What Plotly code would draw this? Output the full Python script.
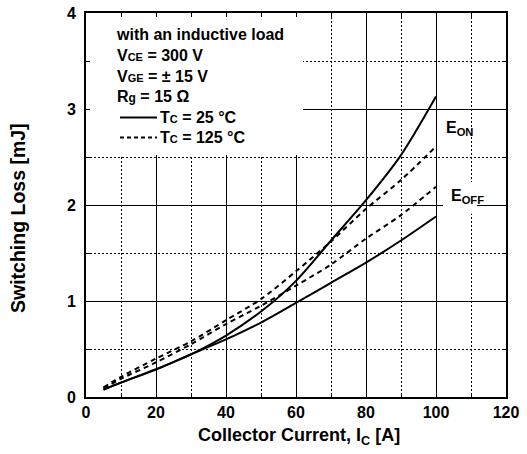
import plotly.graph_objects as go

# ---- data ----
current = [5, 10, 20, 30, 40, 50, 60, 70, 80, 90, 100]
eon_25 = [0.08, 0.15, 0.29, 0.445, 0.64, 0.89, 1.21, 1.63, 2.05, 2.52, 3.13]
eoff_25 = [0.075, 0.15, 0.285, 0.445, 0.60, 0.775, 0.98, 1.19, 1.40, 1.63, 1.88]
eon_125 = [0.10, 0.21, 0.40, 0.58, 0.80, 1.02, 1.31, 1.62, 1.96, 2.26, 2.61]
eoff_125 = [0.09, 0.19, 0.36, 0.55, 0.76, 0.95, 1.16, 1.38, 1.65, 1.895, 2.19]

x_ticks = [0, 20, 40, 60, 80, 100, 120]
y_ticks = [0, 1, 2, 3, 4]

FONT = "Liberation Sans, Arial, sans-serif"

fig = go.Figure()

series = [
    (eon_25, "solid", "E_ON 25"),
    (eoff_25, "solid", "E_OFF 25"),
    (eon_125, "5px,4px", "E_ON 125"),
    (eoff_125, "5px,4px", "E_OFF 125"),
]
for ys, dash, name in series:
    fig.add_trace(go.Scatter(
        x=current, y=ys, mode="lines", name=name, showlegend=False,
        line=dict(color="black", width=2, dash=dash, shape="spline", smoothing=0.8),
        hoverinfo="skip",
    ))

axis_common = dict(
    showline=True, linecolor="black", linewidth=2, mirror="ticks",
    ticks="inside", ticklen=4, tickwidth=1, tickcolor="black",
    showgrid=True, gridcolor="black", gridwidth=1,
    zeroline=False, automargin=False,
    tickfont=dict(family=FONT, size=16, color="black", weight="bold"),
)

fig.update_xaxes(
    range=[0, 120], tickvals=x_ticks, ticktext=[str(v) for v in x_ticks],
    minor=dict(dtick=10, tick0=0, ticks="inside", ticklen=4, tickcolor="black",
               showgrid=True, gridcolor="black", gridwidth=1, griddash="2px,2px"),
    **axis_common,
)
fig.update_yaxes(
    range=[0, 4], tickvals=y_ticks, ticktext=[str(v) for v in y_ticks],
    minor=dict(dtick=0.5, tick0=0, ticks="inside", ticklen=4, tickcolor="black",
               showgrid=True, gridcolor="black", gridwidth=1, griddash="2px,2px"),
    ticklabelstandoff=5,
    **axis_common,
)

# white boxes hiding the grid behind the text
fig.add_shape(type="rect", xref="x", yref="y", x0=0, x1=62, y0=2.52, y1=4,
              fillcolor="white", line=dict(width=0), layer="between")
fig.add_shape(type="rect", xref="x", yref="y", x0=102, x1=111.7, y0=1.91, y1=2.24,
              fillcolor="white", line=dict(width=0), layer="between")

bold = dict(family=FONT, size=16, color="black", weight="bold")
small = "font-size:11px"

cond = ("with an inductive load<br>"
        f"V<span style='{small}'>CE</span> = 300 V<br>"
        f"V<span style='{small}'>GE</span> = ± 15 V<br>"
        "R<span style='font-size:12px'>g</span> = 15 Ω")
fig.add_annotation(xref="paper", yref="paper", x=0.066, y=0.863,
                   xanchor="left", yanchor="middle", align="left",
                   text=cond, showarrow=False, font=bold)

# legend samples
fig.add_shape(type="line", xref="paper", yref="paper", x0=0.081, x1=0.169,
              y0=0.728, y1=0.728, line=dict(color="black", width=2))
fig.add_shape(type="line", xref="paper", yref="paper", x0=0.081, x1=0.169,
              y0=0.676, y1=0.676, line=dict(color="black", width=2, dash="4px,3px"))
fig.add_annotation(xref="paper", yref="paper", x=0.172, y=0.728,
                   xanchor="left", yanchor="middle",
                   text=f"T<span style='{small}'>C</span> = 25 °C",
                   showarrow=False, font=bold)
fig.add_annotation(xref="paper", yref="paper", x=0.172, y=0.676,
                   xanchor="left", yanchor="middle",
                   text=f"T<span style='{small}'>C</span> = 125 °C",
                   showarrow=False, font=bold)

# curve labels
fig.add_annotation(xref="x", yref="y", x=102.4, y=2.80, xanchor="left", yanchor="middle",
                   text="E<sub>ON</sub>", showarrow=False,
                   font=dict(family=FONT, size=16, color="black", weight="bold"))
fig.add_annotation(xref="x", yref="y", x=103.7, y=2.09, xanchor="left", yanchor="middle",
                   text="E<sub>OFF</sub>", showarrow=False,
                   font=dict(family=FONT, size=16, color="black", weight="bold"))

# axis titles
fig.add_annotation(xref="paper", yref="paper", x=0.506, y=-0.1016,
                   xanchor="center", yanchor="middle",
                   text="Collector Current, I<sub>C</sub> [A]",
                   showarrow=False, font=dict(family=FONT, size=18, color="black", weight="bold"))
fig.add_annotation(xref="paper", yref="paper", x=-0.162, y=0.466,
                   xanchor="center", yanchor="middle", textangle=-90,
                   text="Switching Loss [mJ]",
                   showarrow=False, font=dict(family=FONT, size=19.5, color="black", weight="bold"))

fig.update_layout(
    width=527, height=454,
    margin=dict(l=86, r=21, t=13, b=57, autoexpand=False),
    paper_bgcolor="white", plot_bgcolor="white",
    showlegend=False,
)

fig.write_html("out.html")
